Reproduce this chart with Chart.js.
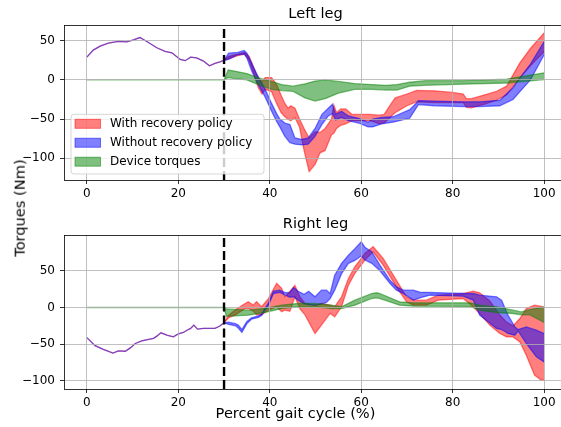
<!DOCTYPE html>
<html>
<head>
<meta charset="utf-8">
<script src="https://cdn.jsdelivr.net/npm/chart.js@4.4.1/dist/chart.umd.min.js"></script>
<style>
  html, body { margin: 0; padding: 0; background: #fff; overflow: hidden; width: 561px; height: 427px; }
  #fig { position: relative; width: 561px; height: 427px; overflow: hidden; }
  canvas { position: absolute; left: 0; }
  .lbl { position: absolute; font-family: 'DejaVu Sans'; font-size: 14.6px; line-height: 1; white-space: nowrap; color: #000; }
  #ylab { left: 19.5px; top: 208px; transform: translate(-50%, -50%) rotate(-90deg); }
  #xlab { left: 295.5px; top: 406px; transform: translateX(-50%); }
</style>
</head>
<body>
<div id="fig">
  <canvas id="leftLeg" width="600" height="205" style="top:0px"></canvas>
  <canvas id="rightLeg" width="600" height="222" style="top:205px"></canvas>
  <div class="lbl" id="ylab">Torques (Nm)</div>
  <div class="lbl" id="xlab">Percent gait cycle (%)</div>
</div>
<script>
// Axis ticks and series names
const gaitTicks = [0, 20, 40, 60, 80, 100];
const torqueTicks = [-100, -50, 0, 50];
const seriesNames = ['With recovery policy', 'Without recovery policy', 'Device torques'];
const legTitles = ['Left leg', 'Right leg'];
const perturbationOnset = 30;

// Left leg: shared trajectory before the perturbation (both policies coincide)
const leftPreGait   = [0, 1.4, 2.9, 4.7, 6.9, 8.7, 10.2, 11.6, 13.1, 15.3, 17.1, 18.6, 20.4, 21.5, 22.7, 24, 25.5, 26.8, 28, 29.1, 30];
const leftPreTorque = [29, 38, 43, 47, 49, 48.5, 51, 54, 49, 41, 36.5, 34.5, 26, 24.5, 29, 28, 24, 18, 21, 23, 25];

// Left leg: with recovery policy (band bounds)
const leftRecGait = [31, 33, 34.5, 35.5, 36.5, 37.5, 38.3, 39, 40.4, 41.5, 42.5, 43.3, 44, 44.6, 45.5, 46.5, 47.5, 48.6, 49.9, 51, 52.1, 53.5, 54, 54.6, 55.5, 56.6, 58, 60, 62, 64, 65, 67.4, 70, 72.1, 76, 80, 82.3, 83, 84.1, 87, 89.6, 91.8, 94.7, 97, 100];
const leftRecHigh = [30, 33, 35, 30, 15, 2, -2, 3, 3, -6, -20, -30, -36, -33, -36, -50, -62, -74, -66, -67, -62, -50, -32, -42, -37, -37, -44, -44, -44, -45, -44, -23, -18, -13.5, -14, -16, -18, -24, -24, -19, -14.5, -8, 21.7, 40, 60];
const leftRecLow  = [27, 31, 33, 25, 8, -10, -18, -12, -15, -30, -42, -47, -50, -52, -48, -60, -90, -117, -108, -93, -90, -70, -68, -62, -58, -56, -52, -52, -52, -56, -55, -42, -33, -28, -29, -29, -29, -35, -35.7, -31, -26, -19, 2.5, 18, 36];

// Left leg: without recovery policy
const leftNoRecGait = [31, 33, 34.4, 35, 36, 37.1, 39, 40.4, 41.5, 42.2, 43.3, 44.4, 45.5, 47, 48.4, 49.9, 51.4, 52.8, 53.7, 54.4, 55.7, 57.2, 59.4, 61.5, 62.5, 64.5, 67, 70.6, 71.8, 72.5, 76, 82.3, 86, 90.3, 93.2, 94.7, 97, 100];
const leftNoRecHigh = [34, 35, 37.5, 34, 22, 8, -12, -30, -43, -50, -55, -57, -74, -76, -74, -62, -44, -36, -31, -44, -40, -46, -49, -54, -50, -48, -47, -38, -31, -26.4, -27, -28, -28, -26, -10, 2.5, 20, 49];
const leftNoRecLow  = [26, 32, 33, 28, 12, -2, -22, -40, -53, -60, -72, -80, -82, -83, -82, -72, -57, -46, -43, -51, -48, -52, -55, -60, -60, -56, -54, -49, -38, -31.5, -33, -34, -34, -33, -25, -15, 0, 32];

// Left leg: device torques
const leftDevPreGait = [0, 30];
const leftDevPre     = [0, 0];
const leftDevGait = [30.9, 32, 35, 37.5, 40.4, 42.6, 45.1, 47.7, 49.9, 52.1, 55, 58.6, 62.2, 65.5, 67.8, 70.6, 74, 82.3, 91.8, 100];
const leftDevHigh = [12.5, 11.5, 8, 2.5, -2, -6, -8, -5, -1.5, 0, -2, -4.7, -6, -7, -6, -3, -1, -1, 1, 9];
const leftDevLow  = [3, 2, 0, -6, -12, -13.6, -14.6, -23, -27, -24, -17, -12, -12, -13, -13, -8, -6.9, -5.5, -4, 0.4];

// Right leg: shared trajectory before the perturbation
const rightPreGait   = [0, 1.8, 3.6, 5.7, 6.9, 8.4, 9.5, 10.6, 12, 13.5, 14.6, 15.3, 16.2, 17.5, 18.9, 20, 21.1, 21.9, 22.7, 23.4, 24.2, 25.5, 28, 29, 30];
const rightPreTorque = [-41, -52, -57, -62, -59, -59.5, -55, -49, -45.5, -43.5, -42, -39, -34.5, -37.5, -40, -36, -34, -31, -28.5, -24, -29.5, -28.5, -28.5, -25.5, -21];

// Right leg: with recovery policy
const rightRecGait = [31, 32.4, 34.6, 35.3, 36.4, 37.1, 38.2, 39.7, 41.5, 42.6, 43.3, 44.4, 45.5, 46.6, 47.7, 49.9, 51.3, 53.2, 54.2, 55.7, 57.2, 58.6, 60.8, 62.6, 64.8, 67.7, 69.9, 71.4, 74.3, 76.8, 82.3, 84.5, 85.9, 88.1, 90.3, 91.8, 93.2, 94.7, 96.1, 97.9, 99.4, 100];
const rightRecHigh = [-10.5, -3.6, 5.4, 7.7, 3.2, 8, 1, 12, 33, 26, 14.5, 22, 30, 14.5, 5.4, 3.2, 5.4, 3.2, 0.9, 14.5, 39.5, 55.4, 73.5, 82.6, 66.7, 37, 14.5, 10, 10, 16.8, 19, 22.2, 20, 9, -10, -20, -25, -15, -1.4, 3.2, 1.5, 0];
const rightRecLow  = [-14, -10.5, -1.4, -1.4, -5, -10, -10, -3.6, 0.9, -5.9, -3.6, -5, 14.5, -2, -10, -35.4, -24, -8, -12.7, 0.9, 30.4, 46.3, 64.5, 75.8, 57.6, 28, 7.7, 3.2, 3.2, 10, 12.2, 0.9, -8.2, -24, -35.4, -40, -40, -46.8, -65, -92, -99, -99];

// Right leg: without recovery policy
const rightNoRecGait = [31, 32.5, 33.1, 33.9, 35, 36, 37.5, 38.2, 39.7, 40.8, 42.2, 43.3, 44.3, 45.2, 46.2, 47.5, 48.5, 49.9, 51.3, 52.4, 53.2, 54.2, 55.7, 57.2, 58.6, 60, 60.8, 62.3, 64.1, 66.3, 67.7, 69.2, 71.4, 72.8, 75, 82.3, 84.5, 85.9, 89.6, 90.7, 92.1, 93.6, 94.3, 96.1, 98.3, 100];
const rightNoRecHigh = [-20, -22, -24, -30, -19, -14, -11.5, -9, 6, 22.2, 23.6, 20.4, 20, 27.2, 22, 18, 22, 14.5, 23.6, 23.6, 19, 44, 60, 71, 80, 89.4, 82, 75.8, 57.6, 37, 28, 23.6, 23.6, 21, 20.4, 19, 19, 16.8, 14.5, 10, -10.5, -26.4, -30, -26.4, -30.9, -35.4];
const rightNoRecLow  = [-23, -25, -28, -34, -22, -16, -13.5, -11, 3, 19, 20.5, 17, 14, 14.5, 10, 5, 4, 3, 5, 7, 12, 23.6, 46, 60, 64, 70, 64.5, 60, 50, 32.6, 23.6, 19, 10, 13, 16.8, 15.4, 10, -10.5, -28.6, -30, -35.4, -37.7, -32, -49, -67, -74];

// Right leg: device torques
const rightDevPreGait = [0, 30];
const rightDevPre     = [0, 0];
const rightDevGait = [30.5, 35.3, 39, 42.6, 46.2, 49.9, 53.5, 55.7, 58.6, 62.3, 63.3, 64.1, 68.4, 71.4, 83.8, 85.9, 89.6, 93.2, 95, 96.9, 100];
const rightDevHigh = [-2, -3.6, -1.4, 3.2, 5.4, 5.4, 3.2, 1, 10, 19, 20, 19, 7.7, 6.3, 6.3, 3.2, 0.9, -3.6, -6, -3, 0.9];
const rightDevLow  = [-12, -10.5, -6.8, -1.4, 0.9, 0.9, -1.4, -1.4, 3.2, 12.2, 13.1, 12.2, 3.2, 1.8, 1.4, -3.6, -6.8, -8.2, -10, -10, -20.4];

// ---- styling ----
const fillColors = ['rgba(255,0,0,0.5)', 'rgba(0,0,255,0.5)', 'rgba(0,128,0,0.5)'];
const tickFont = { family: 'DejaVu Sans', size: 12 };
const minus = v => (v < 0 ? '\u2212' + (-v) : String(v));

// Join the pre-perturbation part with the band after it
function band(preX, preY, x, hi, lo) {
  const X = preX.concat(x);
  const H = preY.concat(hi);
  const L = preY.concat(lo);
  return {
    hi: X.map((v, i) => ({ x: v, y: H[i] })),
    lo: X.map((v, i) => ({ x: v, y: L[i] }))
  };
}

// Upper bound fills down to the lower bound (next dataset).
// Device torques come first so they are painted last, on top.
// Before the onset both bounds coincide, so only the upper edge is stroked there.
function buildDatasets(bands) {
  const out = [];
  for (let i = bands.length - 1; i >= 0; i--) {
    const common = { label: seriesNames[i], backgroundColor: fillColors[i], borderColor: fillColors[i],
                     borderWidth: 1.3, pointRadius: 0, tension: 0 };
    out.push(Object.assign({}, common, { data: bands[i].hi, fill: '+1' }));
    out.push(Object.assign({}, common, {
      data: bands[i].lo, fill: false,
      segment: { borderColor: c => (c.p1.parsed.x <= perturbationOnset ? 'rgba(0,0,0,0)' : undefined) }
    }));
  }
  return out;
}

function roundRect(ctx, x, y, w, h, r) {
  ctx.beginPath();
  ctx.moveTo(x + r, y);
  ctx.lineTo(x + w - r, y); ctx.arcTo(x + w, y, x + w, y + r, r);
  ctx.lineTo(x + w, y + h - r); ctx.arcTo(x + w, y + h, x + w - r, y + h, r);
  ctx.lineTo(x + r, y + h); ctx.arcTo(x, y + h, x, y + h - r, r);
  ctx.lineTo(x, y + r); ctx.arcTo(x, y, x + r, y, r);
  ctx.closePath();
}

// Grid above the bands, onset marker, frame, legend and subplot title
const overlay = {
  id: 'overlay',
  afterDatasetsDraw(chart, args, opts) {
    const { ctx, chartArea: a, scales: { x, y } } = chart;
    const snap = v => Math.floor(v) + 0.5;
    ctx.save();
    ctx.lineWidth = 0.8;
    ctx.strokeStyle = '#b0b0b0';
    ctx.beginPath();
    gaitTicks.forEach(v => { const p = snap(x.getPixelForValue(v)); ctx.moveTo(p, a.top); ctx.lineTo(p, a.bottom); });
    torqueTicks.forEach(v => { const p = snap(y.getPixelForValue(v)); ctx.moveTo(a.left, p); ctx.lineTo(a.right, p); });
    ctx.stroke();

    const xo = x.getPixelForValue(perturbationOnset);
    ctx.strokeStyle = '#000';
    ctx.lineWidth = 2.4;
    ctx.setLineDash([9, 3.9]);
    ctx.beginPath(); ctx.moveTo(xo, a.bottom); ctx.lineTo(xo, a.top); ctx.stroke();
    ctx.setLineDash([]);

    ctx.lineWidth = 0.8;
    ctx.strokeStyle = '#000';
    ctx.strokeRect(snap(a.left), snap(a.top), Math.round(a.right - a.left), Math.round(a.bottom - a.top));

    if (opts.legend) {
      const lx = a.left + 7, ly = a.bottom - 65.7, lw = 193, lh = 59.7;
      roundRect(ctx, lx, ly, lw, lh, 3);
      ctx.fillStyle = 'rgba(255,255,255,0.8)';
      ctx.fill();
      ctx.strokeStyle = 'rgba(204,204,204,0.8)';
      ctx.lineWidth = 1;
      ctx.stroke();
      ctx.font = '12px "DejaVu Sans"';
      ctx.textBaseline = 'middle';
      ctx.textAlign = 'left';
      seriesNames.forEach((name, i) => {
        const cy = ly + 9.5 + i * 18.95;
        ctx.fillStyle = fillColors[i];
        ctx.strokeStyle = fillColors[i];
        ctx.lineWidth = 1;
        ctx.fillRect(lx + 4, cy - 4.5, 25.5, 9);
        ctx.strokeRect(lx + 4, cy - 4.5, 25.5, 9);
        ctx.fillStyle = '#000';
        ctx.fillText(name, lx + 39, cy + 0.5);
      });
    }

    ctx.font = '14.6px "DejaVu Sans"';
    ctx.fillStyle = '#000';
    ctx.textAlign = 'center';
    ctx.textBaseline = 'alphabetic';
    ctx.fillText(opts.title, (a.left + a.right) / 2, a.top - 7.3);
    ctx.restore();
  }
};

function makeChart(id, title, bands, yMin, yMax, padTop, xAxisHeight, legend) {
  return new Chart(document.getElementById(id), {
    type: 'line',
    data: { datasets: buildDatasets(bands) },
    options: {
      responsive: false,
      animation: false,
      devicePixelRatio: 1,
      events: [],
      layout: { padding: { top: padTop, right: 33, bottom: 0, left: 0 } },
      plugins: {
        legend: { display: false },
        tooltip: { enabled: false },
        title: { display: false },
        overlay: { title: title, legend: legend }
      },
      scales: {
        x: {
          type: 'linear', min: -5, max: 105,
          afterBuildTicks: s => { s.ticks = gaitTicks.map(v => ({ value: v })); },
          afterFit: s => { s.height = xAxisHeight; },
          grid: { drawOnChartArea: false, tickColor: '#000', tickLength: 4, tickWidth: 0.8 },
          border: { display: false },
          ticks: { padding: 2.5, font: tickFont, color: '#000', autoSkip: false, maxRotation: 0, callback: v => minus(v) }
        },
        y: {
          type: 'linear', min: yMin, max: yMax,
          afterBuildTicks: s => { s.ticks = torqueTicks.map(v => ({ value: v })); },
          afterFit: s => { s.width = 64; },
          grid: { drawOnChartArea: false, tickColor: '#000', tickLength: 4, tickWidth: 0.8 },
          border: { display: false },
          ticks: { padding: 5, font: tickFont, color: '#000', autoSkip: false, callback: v => minus(v) }
        }
      }
    },
    plugins: [overlay]
  });
}

const leftBands = [
  band(leftPreGait, leftPreTorque, leftRecGait, leftRecHigh, leftRecLow),
  band(leftPreGait, leftPreTorque, leftNoRecGait, leftNoRecHigh, leftNoRecLow),
  band(leftDevPreGait, leftDevPre, leftDevGait, leftDevHigh, leftDevLow)
];
const rightBands = [
  band(rightPreGait, rightPreTorque, rightRecGait, rightRecHigh, rightRecLow),
  band(rightPreGait, rightPreTorque, rightNoRecGait, rightNoRecHigh, rightNoRecLow),
  band(rightDevPreGait, rightDevPre, rightDevGait, rightDevHigh, rightDevLow)
];

makeChart('leftLeg', legTitles[0], leftBands, -127.7, 70, 25, 25, true);
makeChart('rightLeg', legTitles[1], rightBands, -110.9, 98.6, 30, 38, false);
</script>
</body>
</html>
